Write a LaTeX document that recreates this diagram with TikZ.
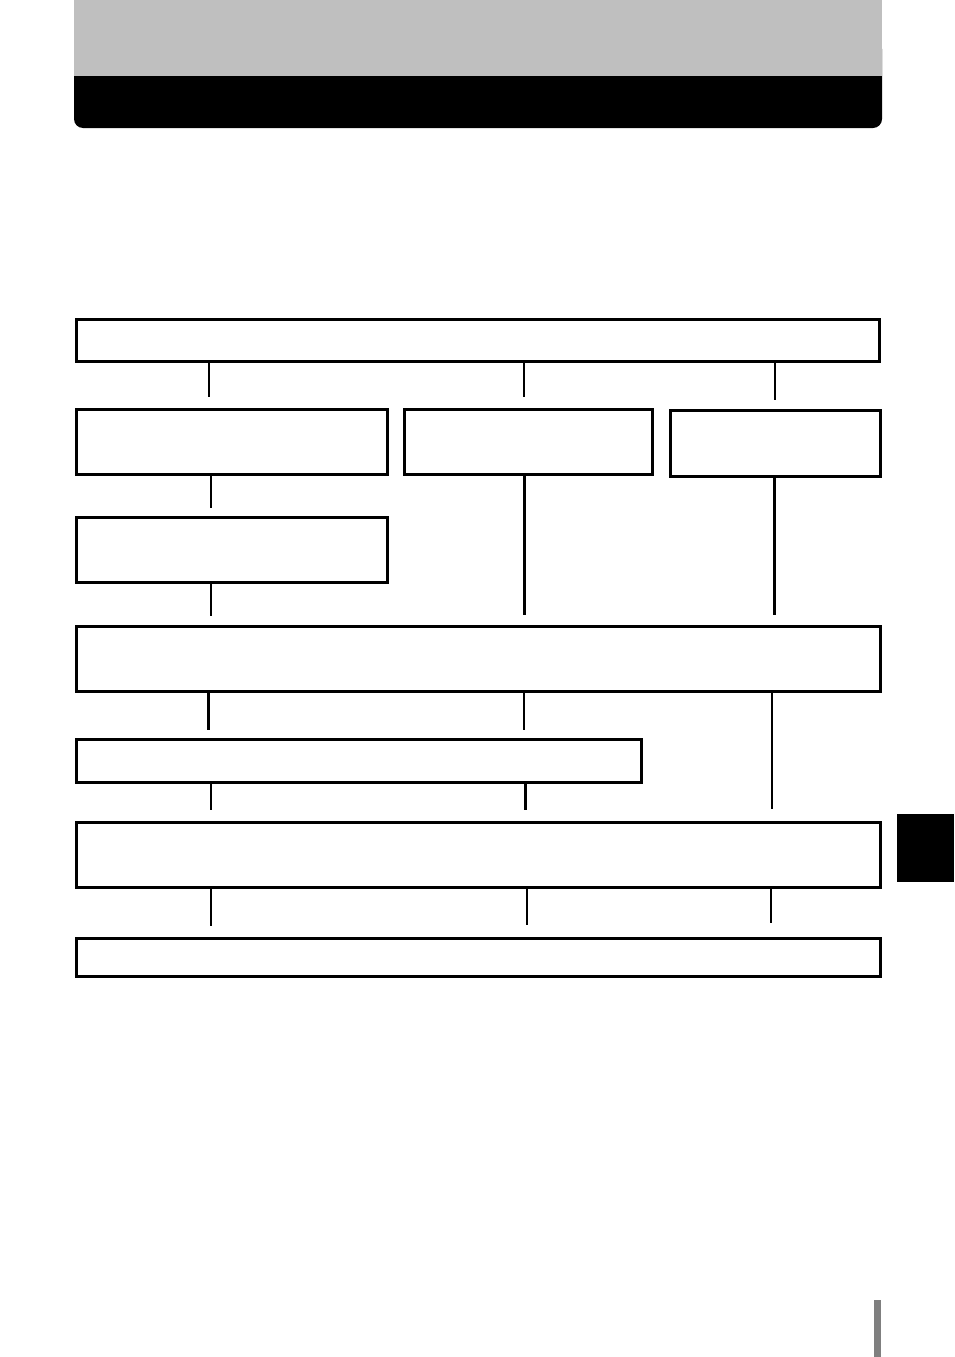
\documentclass[tikz,border=0pt]{standalone}
\usepackage{tikz}
\definecolor{hdrgray}{HTML}{BFBFBF}
\definecolor{bargray}{HTML}{7F7F7F}
\tikzset{
  blk/.style={draw, line width=3pt, inner sep=0pt, outer sep=0pt, anchor=north west},
  conn/.style={line width=2pt},
  connthick/.style={line width=3pt}
}
\begin{document}
\begin{tikzpicture}[x=1pt,y=-1pt]
\useasboundingbox (0,0) rectangle (954,1357);
\fill[black, rounded corners=9pt] (74,40) rectangle (882,128);
\fill[hdrgray] (74,0) rectangle (882,76);
\fill[black] (897,814) rectangle (954,882);
\fill[bargray] (874,1300) rectangle (881,1357);

\node[blk, minimum width=803pt, minimum height=42pt] (top) at (76.5,319.5) {};
\node[blk, minimum width=311pt, minimum height=65pt] (b1) at (76.5,409.5) {};
\node[blk, minimum width=248pt, minimum height=65pt] (b2) at (404.5,409.5) {};
\node[blk, minimum width=210pt, minimum height=66pt] (b3) at (670.5,410.5) {};
\node[blk, minimum width=311pt, minimum height=65pt] (c1) at (76.5,517.5) {};
\node[blk, minimum width=804pt, minimum height=65pt] (d) at (76.5,626.5) {};
\node[blk, line width=2.5pt, minimum width=565pt, minimum height=43pt] (e) at (76.5,739.5) {};
\node[blk, minimum width=804pt, minimum height=65pt] (f) at (76.5,822.5) {};
\node[blk, minimum width=804pt, minimum height=38pt] (g) at (76.5,938.5) {};

\foreach \x/\s in {209/12.5, 524/12.5, 775/9.5}
\draw[conn, shorten >=\s pt] (top.south -| \x,0) -- (b1.north -| \x,0);
\draw[conn, shorten >=9.5pt] (b1.south -| 211,0) -- (c1.north -| 211,0);
\draw[conn, shorten >=10.5pt] (c1.south -| 211,0) -- (d.north -| 211,0);
\draw[connthick, shorten >=11.5pt] (b2.south -| 524,0) -- (d.north -| 524,0);
\draw[connthick, shorten >=11.5pt] (b3.south -| 774,0) -- (d.north -| 774,0);
\draw[connthick, shorten >=9.5pt] (d.south -| 208,0) -- (e.north -| 208,0);
\draw[conn, shorten >=9.5pt] (d.south -| 524,0) -- (e.north -| 524,0);
\draw[conn, shorten >=13.5pt] (d.south -| 772,0) -- (f.north -| 772,0);
\draw[conn, shorten >=12.5pt] (e.south -| 211,0) -- (f.north -| 211,0);
\draw[connthick, shorten >=12.5pt] (e.south -| 525,0) -- (f.north -| 525,0);
\foreach \x/\s in {211/12.5, 527/13.5, 771/15.5}
\draw[conn, shorten >=\s pt] (f.south -| \x,0) -- (g.north -| \x,0);
\end{tikzpicture}
\end{document}
